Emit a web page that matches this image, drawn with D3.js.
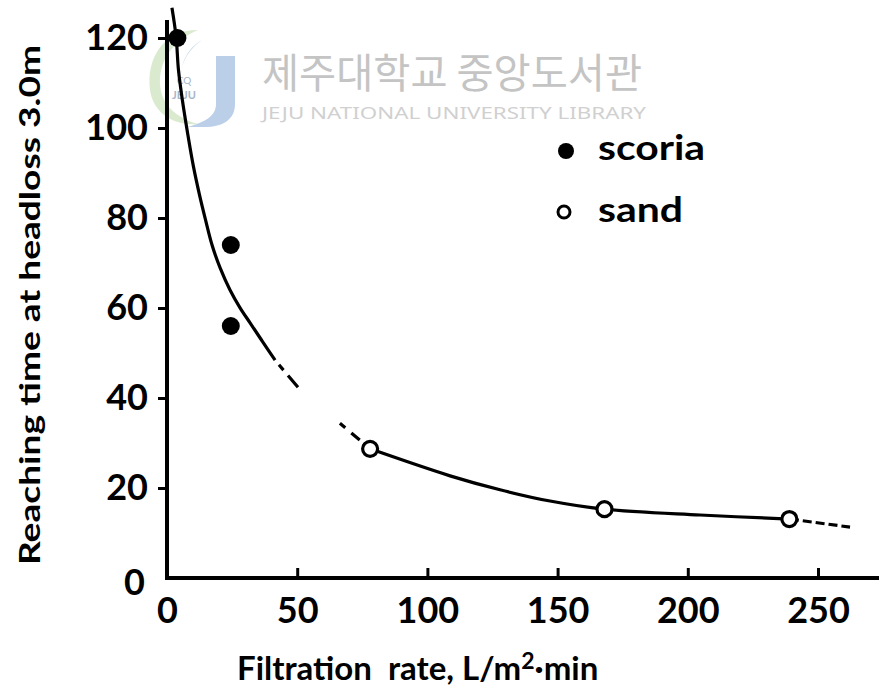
<!DOCTYPE html>
<html>
<head>
<meta charset="utf-8">
<script src="https://cdn.jsdelivr.net/npm/d3@7"></script>
<style>
  html, body { margin: 0; padding: 0; background: #fff; }
  svg { display: block; }
  text { font-family: Lato, "DejaVu Sans", sans-serif; fill: #000; }
</style>
</head>
<body>
<svg id="chart" width="879" height="686"></svg>
<script>
// Measured points
const scoriaRate = [4, 24.5, 24.5];
const scoriaTime = [120, 74, 56];
const sandRate = [78, 168, 239];
const sandTime = [28.7, 15.3, 13.1];

// Hand-fitted trend curve through both media
const trendRate = [1.9, 3.5, 4.4, 5.9, 7.9, 10.2, 12.5, 14.8, 17.3, 20.4, 24.2, 28.0, 31.9, 36.5, 41.5, 50.3, 66.4, 78.0, 108.7, 127.9, 147.1, 167.8, 204.7, 239.2, 262.3];
const trendTime = [126.7, 120.2, 112.9, 106.2, 98.9, 91.3, 85.1, 79.6, 74.0, 68.9, 64.0, 60.1, 56.7, 52.7, 48.4, 42.4, 34.4, 28.7, 22.7, 19.6, 17.1, 15.3, 14.0, 13.1, 11.3];

const xTicks = [0, 50, 100, 150, 200, 250];
const yTicks = [0, 20, 40, 60, 80, 100, 120];

const svg = d3.select("#chart");
const x = d3.scaleLinear().domain([0, 250]).range([167, 818]);
const y = d3.scaleLinear().domain([0, 120]).range([578, 38]);

// ---- library watermark ----
const wm = svg.append("g").attr("class", "watermark");
wm.append("path")
  .attr("d", "M198,30 C162,30 146,60 150,90 C153,112 172,126 198,124 C176,118 161,104 160,84 C159,60 174,40 198,30 Z")
  .attr("fill", "#d3e6c6").attr("opacity", 0.85);
wm.append("path")
  .attr("d", "M202,40 C184,50 176,72 184,94 C176,76 182,54 202,40 Z")
  .attr("fill", "#bcd3e6").attr("opacity", 0.85);
wm.append("path")
  .attr("d", "M216,56 L235,56 L235,104 C235,119 224,127 204,127 L188,127 C205,122 216,116 216,104 Z")
  .attr("fill", "#bccfe9");
wm.append("text").attr("x", 184).attr("y", 84).attr("text-anchor", "middle")
  .style("font-size", "10px").style("fill", "#a6b6c8").text("CQ");
wm.append("text").attr("x", 184).attr("y", 99).attr("text-anchor", "middle")
  .style("font-size", "11px").style("font-weight", "bold").style("fill", "#a6b6c8").text("JEJU");
wm.append("text").attr("x", 262).attr("y", 88)
  .attr("textLength", 380).attr("lengthAdjust", "spacingAndGlyphs")
  .style("font-family", "'Noto Sans CJK KR', sans-serif")
  .style("font-size", "41px").style("fill", "#c4c4c4").text("제주대학교 중앙도서관");
wm.append("text").attr("x", 262).attr("y", 119)
  .attr("textLength", 384).attr("lengthAdjust", "spacingAndGlyphs")
  .style("font-family", "'Noto Sans', sans-serif")
  .style("font-size", "16px").style("fill", "#d0d0d0").text("JEJU NATIONAL UNIVERSITY  LIBRARY");

// ---- axes ----
const axisG = svg.append("g");
axisG.append("line")
  .attr("x1", x(0)).attr("x2", x(0)).attr("y1", y(124)).attr("y2", y(0))
  .attr("stroke", "#000").attr("stroke-width", 4);
axisG.append("line")
  .attr("x1", x(0) - 2).attr("x2", x(274)).attr("y1", y(0)).attr("y2", y(0))
  .attr("stroke", "#000").attr("stroke-width", 4);

const xAxis = svg.append("g")
  .attr("transform", `translate(0,${y(0)})`)
  .call(d3.axisBottom(x).tickValues(xTicks).tickFormat(d3.format("d"))
    .tickSize(-10).tickSizeOuter(0).tickPadding(19));
xAxis.select(".domain").remove();
xAxis.selectAll(".tick line").attr("stroke", "#000").attr("stroke-width", 3)
  .filter(d => d === 0).remove();
xAxis.selectAll(".tick text").style("font-size", "36px").style("font-family", "Lato, sans-serif")
  .style("font-weight", "bold");

const yAxis = svg.append("g")
  .attr("transform", `translate(${x(0)},0)`)
  .call(d3.axisLeft(y).tickValues(yTicks).tickFormat(d3.format("d"))
    .tickSize(9).tickSizeOuter(0).tickPadding(10));
yAxis.select(".domain").remove();
yAxis.selectAll(".tick line").attr("stroke", "#000").attr("stroke-width", 3)
  .filter(d => d === 0).remove();
yAxis.selectAll(".tick text").style("font-size", "36px").style("font-family", "Lato, sans-serif")
  .style("font-weight", "bold");
yAxis.selectAll(".tick text").filter(d => d === 0)
  .attr("x", -22).attr("dy", "0.45em");

// ---- axis titles ----
svg.append("text")
  .attr("transform", "translate(40,305) rotate(-90)")
  .attr("text-anchor", "middle")
  .attr("textLength", 520).attr("lengthAdjust", "spacingAndGlyphs")
  .style("font-size", "29px").style("font-weight", "bold")
  .text("Reaching time at headloss 3.0m");

const xTitle = svg.append("text")
  .attr("x", 237).attr("y", 680)
  .style("font-size", "33px").style("font-weight", "bold");
xTitle.append("tspan").text("Filtration\u00A0\u00A0rate, L/m");
xTitle.append("tspan").attr("dy", -11).style("font-size", "23px").text("2");
xTitle.append("tspan").attr("dy", 11).text("\u00B7min");

// ---- trend curve ----
const trend = trendRate.map((r, i) => ({ r, t: trendTime[i] }));
const line = d3.line().x(d => x(d.r)).y(d => y(d.t)).curve(d3.curveCatmullRom.alpha(0.5));
const pieces = [
  { from: 0, to: 14, dash: null },
  { from: 14, to: 15, dash: "0 6 7 7 20" },
  { from: 16, to: 17, dash: "7 8 11 5 30" },
  { from: 17, to: 23, dash: null },
  { from: 23, to: 24, dash: "9 4" }
];
const curveG = svg.append("g");
pieces.forEach(p => {
  curveG.append("path")
    .datum(trend.slice(p.from, p.to + 1))
    .attr("d", line)
    .attr("fill", "none")
    .attr("stroke", "#000")
    .attr("stroke-width", 3.2)
    .attr("stroke-dasharray", p.dash);
});

// ---- data markers ----
const scoria = scoriaRate.map((r, i) => ({ r, t: scoriaTime[i] }));
const sand = sandRate.map((r, i) => ({ r, t: sandTime[i] }));
svg.append("g").selectAll("circle").data(scoria).join("circle")
  .attr("cx", d => x(d.r)).attr("cy", d => y(d.t)).attr("r", 9)
  .attr("fill", "#000");
svg.append("g").selectAll("circle").data(sand).join("circle")
  .attr("cx", d => x(d.r)).attr("cy", d => y(d.t)).attr("r", 7.5)
  .attr("fill", "#fff").attr("stroke", "#000").attr("stroke-width", 3.2);

// ---- legend ----
const legend = svg.append("g");
legend.append("circle").attr("cx", 566).attr("cy", 151).attr("r", 8).attr("fill", "#000");
legend.append("text").attr("x", 598).attr("y", 160)
  .attr("textLength", 107).attr("lengthAdjust", "spacingAndGlyphs")
  .style("font-size", "35px").style("font-weight", "bold").text("scoria");
legend.append("circle").attr("cx", 564).attr("cy", 212).attr("r", 6)
  .attr("fill", "#fff").attr("stroke", "#000").attr("stroke-width", 3);
legend.append("text").attr("x", 598).attr("y", 222)
  .attr("textLength", 85).attr("lengthAdjust", "spacingAndGlyphs")
  .style("font-size", "35px").style("font-weight", "bold").text("sand");
</script>
</body>
</html>
